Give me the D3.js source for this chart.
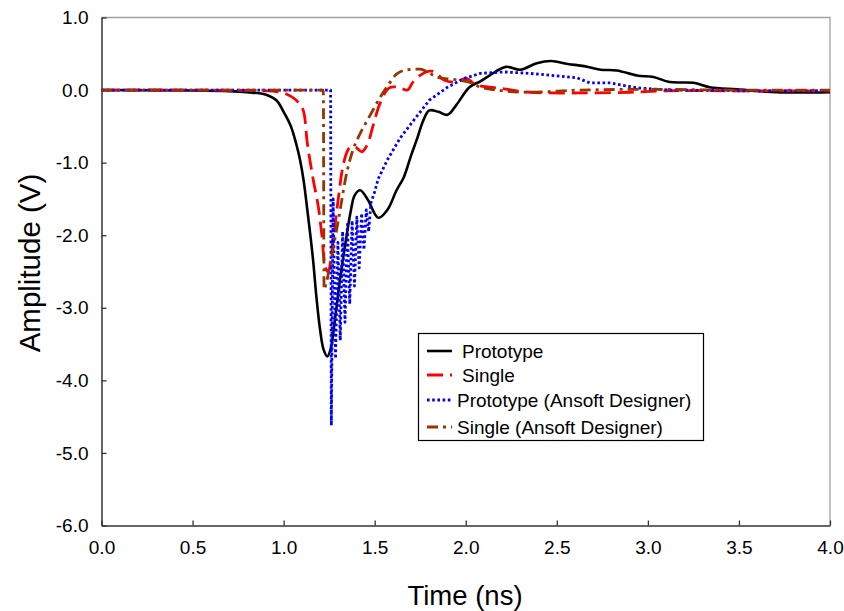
<!DOCTYPE html>
<html><head><meta charset="utf-8">
<script src="https://cdn.jsdelivr.net/npm/d3@7"></script>
<style>body{margin:0;background:#fff;} text{font-family:"Liberation Sans",Arial,sans-serif;}</style>
</head><body><svg id="c" width="844" height="611"></svg>
<script>
const xTicks = [0,0.5,1,1.5,2,2.5,3,3.5,4];
const yTicks = [1,0,-1,-2,-3,-4,-5,-6];
const seriesNames = ["Prototype","Single","Prototype (Ansoft Designer)","Single (Ansoft Designer)"];

const protoT = [0,0.5,0.7,0.8,0.9,0.96,1.0,1.04,1.07,1.09,1.11,1.13,1.16,1.18,1.2,1.22,1.24,1.26,1.28,1.31,1.34,1.37,1.39,1.42,1.46,1.52,1.57,1.62,1.66,1.7,1.73,1.77,1.8,1.85,1.9,1.95,2.02,2.08,2.13,2.22,2.3,2.39,2.47,2.56,2.65,2.74,2.83,2.94,3.03,3.12,3.25,3.34,3.49,3.71,4.0];
const protoV = [0,-0.005,-0.015,-0.03,-0.06,-0.14,-0.3,-0.5,-0.75,-0.96,-1.25,-1.65,-2.3,-2.85,-3.3,-3.58,-3.67,-3.55,-3.2,-2.6,-2.1,-1.65,-1.45,-1.38,-1.5,-1.76,-1.65,-1.38,-1.2,-0.9,-0.69,-0.4,-0.28,-0.3,-0.34,-0.2,0.04,0.12,0.2,0.32,0.28,0.37,0.40,0.36,0.33,0.28,0.27,0.2,0.18,0.11,0.1,0.04,0.01,-0.03,-0.03];

const singleT = [0,0.5,0.9,0.96,1.02,1.06,1.09,1.11,1.13,1.16,1.19,1.21,1.23,1.245,1.26,1.28,1.30,1.33,1.36,1.39,1.43,1.46,1.49,1.53,1.58,1.63,1.68,1.71,1.76,1.8,1.83,1.88,1.95,2.0,2.06,2.13,2.2,2.35,2.63,2.9,3.1,3.5,4.0];
const singleV = [0,0,-0.01,-0.02,-0.06,-0.12,-0.2,-0.3,-0.73,-1.2,-1.6,-2.0,-2.45,-2.5,-2.3,-1.9,-1.5,-1.0,-0.8,-0.78,-0.85,-0.75,-0.5,-0.18,0.03,0.04,0.0,0.11,0.22,0.26,0.25,0.14,0.11,0.16,0.07,0.04,0.02,-0.03,-0.04,-0.03,-0.01,-0.01,-0.01];

const protoAnsT = [0,0.5,1.0,1.258,1.262,1.272,1.285,1.298,1.311,1.324,1.337,1.35,1.363,1.376,1.389,1.402,1.415,1.428,1.441,1.454,1.467,1.48,1.5,1.52,1.57,1.64,1.71,1.8,1.9,1.99,2.08,2.21,2.35,2.48,2.61,2.68,2.79,2.94,3.12,3.5,4.0];
const protoAnsV = [0,0,0,0,-4.62,-1.5,-3.7,-2.1,-3.45,-1.95,-3.2,-1.85,-2.95,-1.8,-2.7,-1.75,-2.45,-1.7,-2.2,-1.65,-1.95,-1.55,-1.4,-1.22,-0.96,-0.66,-0.43,-0.14,0.04,0.16,0.23,0.25,0.23,0.2,0.17,0.1,0.1,0.03,0.0,-0.01,-0.01];

const singleAnsT = [0,0.5,1.0,1.218,1.222,1.235,1.26,1.3,1.35,1.38,1.42,1.47,1.53,1.58,1.62,1.68,1.75,1.79,1.84,1.95,2.02,2.08,2.17,2.35,2.63,3.0,3.5,4.0];
const singleAnsV = [0,0,0,0,-2.75,-2.65,-2.34,-1.8,-1.1,-0.83,-0.6,-0.37,-0.1,0.09,0.22,0.28,0.29,0.25,0.18,0.14,0.11,0.04,0.0,-0.03,0.0,0.01,0.0,0.0];

const svg = d3.select("#c");
const m = {l:101.5, r:830, t:17.5, b:525.5};
const x = d3.scaleLinear().domain([0,4]).range([m.l,m.r]);
const y = d3.scaleLinear().domain([-6,1]).range([m.b,m.t]);

// frame top/right gray
svg.append("path").attr("d",`M${m.l},${m.t}H${m.r}V${m.b}`).attr("fill","none").attr("stroke","#a0a0a0").attr("stroke-width",1.3);

const fmt = d => d.toFixed(1);
const xAxis = svg.append("g").attr("transform",`translate(0,${m.b})`)
  .call(d3.axisBottom(x).tickValues(xTicks).tickFormat(fmt).tickSizeInner(-5).tickSizeOuter(0).tickPadding(12));
const yAxis = svg.append("g").attr("transform",`translate(${m.l},0)`)
  .call(d3.axisLeft(y).tickValues(yTicks).tickFormat(fmt).tickSizeInner(-5).tickSizeOuter(0).tickPadding(13));
[xAxis,yAxis].forEach(a=>{
  a.select(".domain").attr("stroke","#333").attr("stroke-width",1.5);
  a.selectAll(".tick line").attr("stroke","#333").attr("stroke-width",1.3);
  a.selectAll("text").attr("font-size","19px").attr("fill","#000").attr("font-family","Liberation Sans, Arial, sans-serif");
});
xAxis.selectAll("text").attr("dy","0.85em");

svg.append("text").attr("x",465).attr("y",605).attr("text-anchor","middle").attr("font-size","27.5px").text("Time (ns)");
svg.append("text").attr("transform","translate(40,263) rotate(-90)").attr("text-anchor","middle").attr("font-size","29.5px").text("Amplitude (V)");

const styles = [
  {c:"#000000", d:null, w:2.6},
  {c:"#ff0000", d:"16,7", w:2.8},
  {c:"#0000ff", d:"2.6,2.6", w:2.8},
  {c:"#993300", d:"11,5,3,5", w:2.8}
];
const data = [
  d3.zip(protoT,protoV), d3.zip(singleT,singleV), d3.zip(protoAnsT,protoAnsV), d3.zip(singleAnsT,singleAnsV)
];
const curves = [d3.curveCatmullRom.alpha(0.5), d3.curveCatmullRom.alpha(0.5), d3.curveLinear, d3.curveMonotoneX];
const plot = svg.append("g");
[0,1,2,3].forEach(i=>{
  const line = d3.line().x(d=>x(d[0])).y(d=>y(d[1])).curve(curves[i]);
  plot.append("path").datum(data[i]).attr("d",line).attr("fill","none")
    .attr("stroke",styles[i].c).attr("stroke-width",styles[i].w)
    .attr("stroke-dasharray",styles[i].d).attr("stroke-linejoin","round");
});

// legend
const lg = svg.append("g");
lg.append("rect").attr("x",418.5).attr("y",333.5).attr("width",285).attr("height",107).attr("fill","#fff").attr("stroke","#000").attr("stroke-width",1.2);
const lx = [462,462,457,457];
const ly = [351,375,400,427];
seriesNames.forEach((n,i)=>{
  lg.append("line").attr("x1",427).attr("x2",452).attr("y1",ly[i]).attr("y2",ly[i])
    .attr("stroke",styles[i].c).attr("stroke-width",styles[i].w).attr("stroke-dasharray",styles[i].d);
  lg.append("text").attr("x",lx[i]).attr("y",ly[i]).attr("dy","0.35em").attr("font-size","19px").text(n);
});
</script></body></html>
